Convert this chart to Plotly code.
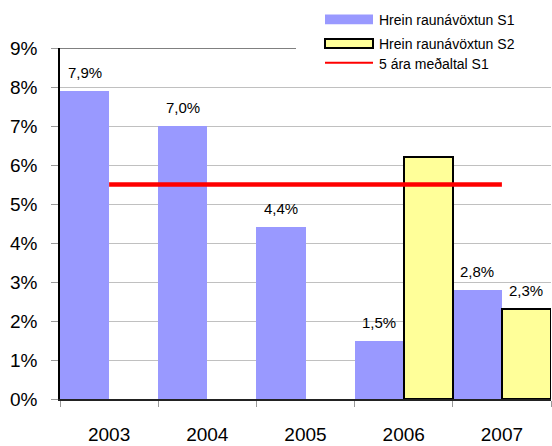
import plotly.graph_objects as go

years = ["2003", "2004", "2005", "2006", "2007"]
s1 = [7.9, 7.0, 4.4, 1.5, 2.8]
s2 = [None, None, None, 6.2, 2.3]
avg_s1 = [5.5, 5.5, 5.5, 5.5, 5.5]
s1_labels = ["7,9%", "7,0%", "4,4%", "1,5%", "2,8%"]
s2_labels = [None, None, None, None, "2,3%"]
names = ["Hrein raunávöxtun S1", "Hrein raunávöxtun S2", "5 ára meðaltal S1"]

FONT = "Arial, Liberation Sans, sans-serif"
W, H = 552, 446
L, R, T, B = 60, 1, 48, 43
pw = W - L - R
ph = H - T - B

def px(x):
    return (x - L) / pw

def py(y):
    return (H - B - y) / ph

fig = go.Figure()
fig.add_trace(go.Bar(x=years, y=s1, name=names[0], marker=dict(color="#9999FF", line=dict(width=0)), showlegend=False))
fig.add_trace(go.Bar(x=years, y=s2, name=names[1], marker=dict(color="#FFFF99", line=dict(color="black", width=2)), showlegend=False))
fig.add_trace(go.Scatter(x=years, y=avg_s1, name=names[2], mode="lines", line=dict(color="#FF0000", width=4.5), showlegend=False))

ann = []
for i, (v, t) in enumerate(zip(s1, s1_labels)):
    if t:
        ann.append(dict(x=i, y=v, text=t, xref="x", yref="y", xshift=-24.5, yshift=8, yanchor="bottom", showarrow=False, font=dict(size=15, color="black", family=FONT)))
for i, (v, t) in enumerate(zip(s2, s2_labels)):
    if t:
        ann.append(dict(x=i, y=v, text=t, xref="x", yref="y", xshift=24.5, yshift=8, yanchor="bottom", showarrow=False, font=dict(size=15, color="black", family=FONT)))

# legend texts
for name, yy in zip(names, [20, 44, 64]):
    ann.append(dict(x=px(377), y=py(yy), xref="paper", yref="paper", text=name, xanchor="left", yanchor="middle", showarrow=False, font=dict(size=14, color="black", family=FONT)))

shapes = [
    dict(type="line", xref="paper", yref="y", x0=0, x1=1, y0=9, y1=9, line=dict(color="#808080", width=2), layer="above"),
    dict(type="rect", xref="paper", yref="paper", x0=px(296), x1=px(553), y0=py(78), y1=py(-2), fillcolor="white", line=dict(width=0), layer="above"),
    dict(type="rect", xref="paper", yref="paper", x0=px(325), x1=px(373), y0=py(24), y1=py(14), fillcolor="#9999FF", line=dict(width=0), layer="above"),
    dict(type="rect", xref="paper", yref="paper", x0=px(325), x1=px(373), y0=py(48), y1=py(39), fillcolor="#FFFF99", line=dict(color="black", width=2), layer="above"),
    dict(type="line", xref="paper", yref="paper", x0=px(325), x1=px(373), y0=py(63), y1=py(63), line=dict(color="#FF0000", width=2), layer="above"),
]

fig.update_layout(
    width=W, height=H,
    margin=dict(l=L, r=R, t=T, b=B, pad=0),
    paper_bgcolor="white", plot_bgcolor="white",
    barmode="group", bargap=0, bargroupgap=0,
    font=dict(family=FONT, color="black"),
    annotations=ann, shapes=shapes,
    xaxis=dict(type="category", range=[-0.5, 4.5], showline=True, linecolor="#222222", linewidth=1.5,
               ticks="outside", tickson="boundaries", ticklen=6, tickcolor="#999999",
               tickfont=dict(size=19, family=FONT, color="black"), ticklabelstandoff=17,
               showgrid=False, fixedrange=True),
    yaxis=dict(range=[0, 9], dtick=1, ticksuffix="%", showline=True, linecolor="black", linewidth=1.5,
               ticks="outside", ticklen=7, tickcolor="#999999",
               tickfont=dict(size=19, family=FONT, color="black"), ticklabelstandoff=10,
               showgrid=True, gridcolor="#C0C0C0", gridwidth=1, zeroline=False),
)

fig.write_html("out.html", config={"displayModeBar": False},
               post_script="document.body.style.margin='0';document.body.style.overflow='hidden';")
